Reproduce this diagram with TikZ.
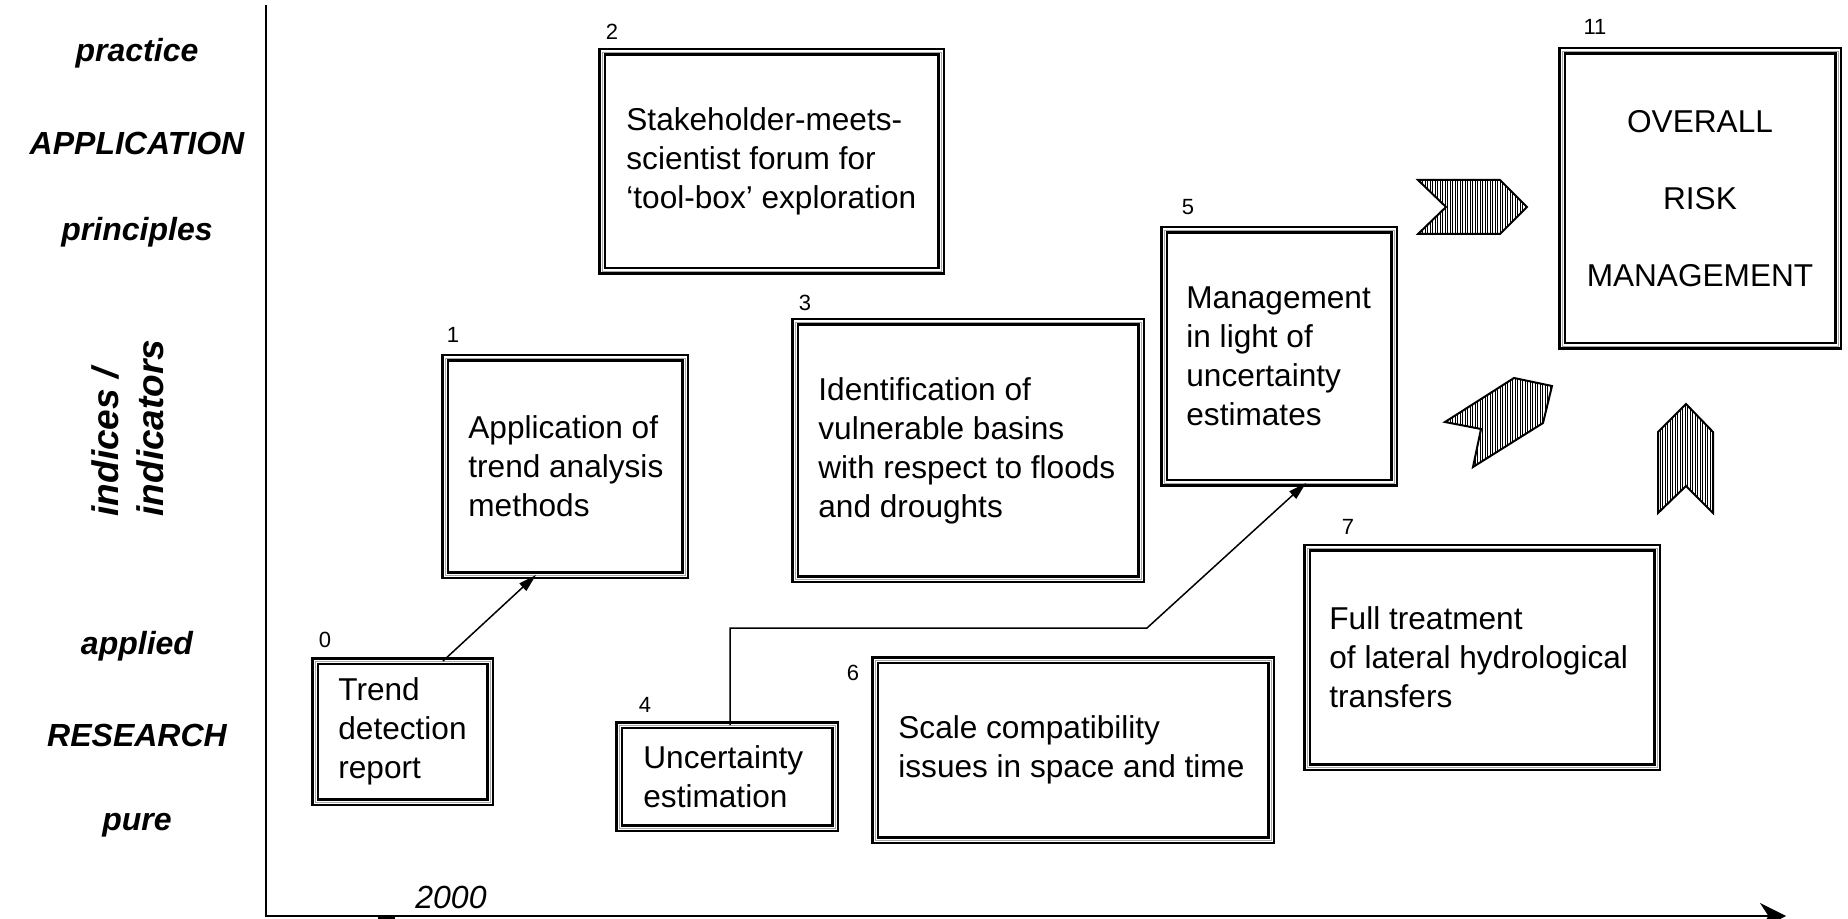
\documentclass[tikz,border=0pt]{standalone}
\usepackage{fontspec}
\setmainfont{Liberation Sans}
\usetikzlibrary{calc,arrows.meta,patterns.meta}
\begin{document}
\begin{tikzpicture}[x=0.5pt,y=-0.5pt,
  dbox/.style={draw, double, line width=1.25pt, double distance=1.5pt, inner sep=0pt, outer sep=0pt,
    postaction={draw=gray!70, line width=0.4pt}},
  btext/.style={anchor=west, align=left, inner sep=0pt, font=\fontsize{15.8pt}{19.5pt}\selectfont},
  num/.style={inner sep=0pt, font=\fontsize{11pt}{13pt}\selectfont},
  side/.style={inner sep=0pt, font=\fontsize{16pt}{19pt}\selectfont\bfseries\itshape},
  conn/.style={line width=0.75pt, -{Triangle[length=9pt,width=5pt]}},
  axis/.style={line width=1pt},
  hatch/.style={draw, line width=1pt, line join=miter, pattern={Lines[angle=90,distance=1.25pt,line width=0.5pt]}}
]
\useasboundingbox (0,0) rectangle (1848,919);

% axes
\coordinate (ot) at (266,5);
\coordinate (o) at (266,916);
\coordinate (xe) at (1786,916);
\draw[axis, -{Stealth[length=13pt,width=13pt]}] (ot) -- (o) -- (xe);
\draw[line width=2pt] (378,917) -- (395,917);

% side labels
\node[side] (lp) at (137,53) {practice};
\node[side] (la) at (137,143) {APPLICATION};
\node[side] (lpr) at (137,232) {principles};
\node[side, rotate=90, align=left, font=\fontsize{18.5pt}{22.5pt}\selectfont\bfseries\itshape] (li) at (128,428) {indices /\\indicators};
\node[side] (lap) at (137,646) {applied};
\node[side] (lr) at (137,735) {RESEARCH};
\node[side] (lpu) at (137,825) {pure};
\node[inner sep=0pt, font=\fontsize{16pt}{19pt}\selectfont\itshape] (yr) at (451,897) {2000};

% boxes
\node[dbox, minimum width=87.5pt, minimum height=70.5pt] (b0) at (402.5,731.5) {};
\node[btext] (t0) at ($(b0.west)+(23,0)$) {Trend\\detection\\report};
\node[num] (n0) at (325,640) {0};

\node[dbox, minimum width=120pt, minimum height=108.5pt] (b1) at (565,466.5) {};
\node[btext] (t1) at ($(b1.west)+(23,0)$) {Application of\\trend analysis\\methods};
\node[num] (n1) at (453,335) {1};

\node[dbox, minimum width=169.5pt, minimum height=109.5pt] (b2) at (771.5,161.5) {};
\node[btext] (t2) at ($(b2.west)+(24,0)$) {Stakeholder-meets-\\scientist forum for\\‘tool-box’ exploration};
\node[num] (n2) at (612,32) {2};

\node[dbox, minimum width=173pt, minimum height=128.5pt] (b3) at (968,450.5) {};
\node[btext] (t3) at ($(b3.west)+(23,0)$) {Identification of\\vulnerable basins\\with respect to floods\\and droughts};
\node[num] (n3) at (805,303) {3};

\node[dbox, minimum width=108pt, minimum height=51.5pt] (b4) at (727,776.5) {};
\node[btext] (t4) at ($(b4.west)+(24,0)$) {Uncertainty\\estimation};
\node[num] (n4) at (645,705) {4};

\node[dbox, minimum width=115pt, minimum height=126.5pt] (b5) at (1279,356.5) {};
\node[btext] (t5) at ($(b5.west)+(22,0)$) {Management\\in light of\\uncertainty\\estimates};
\node[num] (n5) at (1188,207) {5};

\node[dbox, minimum width=198pt, minimum height=90pt] (b6) at (1073,750) {};
\node[btext] (t6) at ($(b6.west)+(23,0)$) {Scale compatibility\\issues in space and time};
\node[num] (n6) at (853,673) {6};

\node[dbox, minimum width=175pt, minimum height=109.5pt] (b7) at (1482,657.5) {};
\node[btext] (t7) at ($(b7.west)+(22,0)$) {Full treatment\\of lateral hydrological\\transfers};
\node[num] (n7) at (1348,527) {7};

\node[dbox, minimum width=138pt, minimum height=147.5pt] (b11) at (1700,198.5) {};
\node[btext, anchor=center, align=center, font=\fontsize{15.8pt}{38.5pt}\selectfont] (t11) at (b11.center) {OVERALL\\RISK\\MANAGEMENT};
\node[num] (n11) at (1595,27) {11};

% connectors
\coordinate (x443) at (443,0);
\coordinate (x536) at (536,0);
\coordinate (x730) at (730,0);
\coordinate (x1306) at (1306,0);
\coordinate (k1) at (1147,628);
\draw[conn] (b0.north -| x443) -- (b1.south -| x536);
\draw[conn] (b4.north -| x730) |- (k1) -- (b5.south -| x1306);

% hatched arrows
\draw[hatch] (1418,180) -- (1500,180) -- (1527,207) -- (1500,234) -- (1418,234) -- (1446,207) -- cycle;
\draw[hatch] (1445,422) -- (1514,378) -- (1552,386) -- (1543,423) -- (1473,467) -- (1481,429) -- cycle;
\draw[hatch] (1658,432) -- (1686,404) -- (1713,432) -- (1713,513) -- (1686,486) -- (1658,513) -- cycle;
\end{tikzpicture}
\end{document}
